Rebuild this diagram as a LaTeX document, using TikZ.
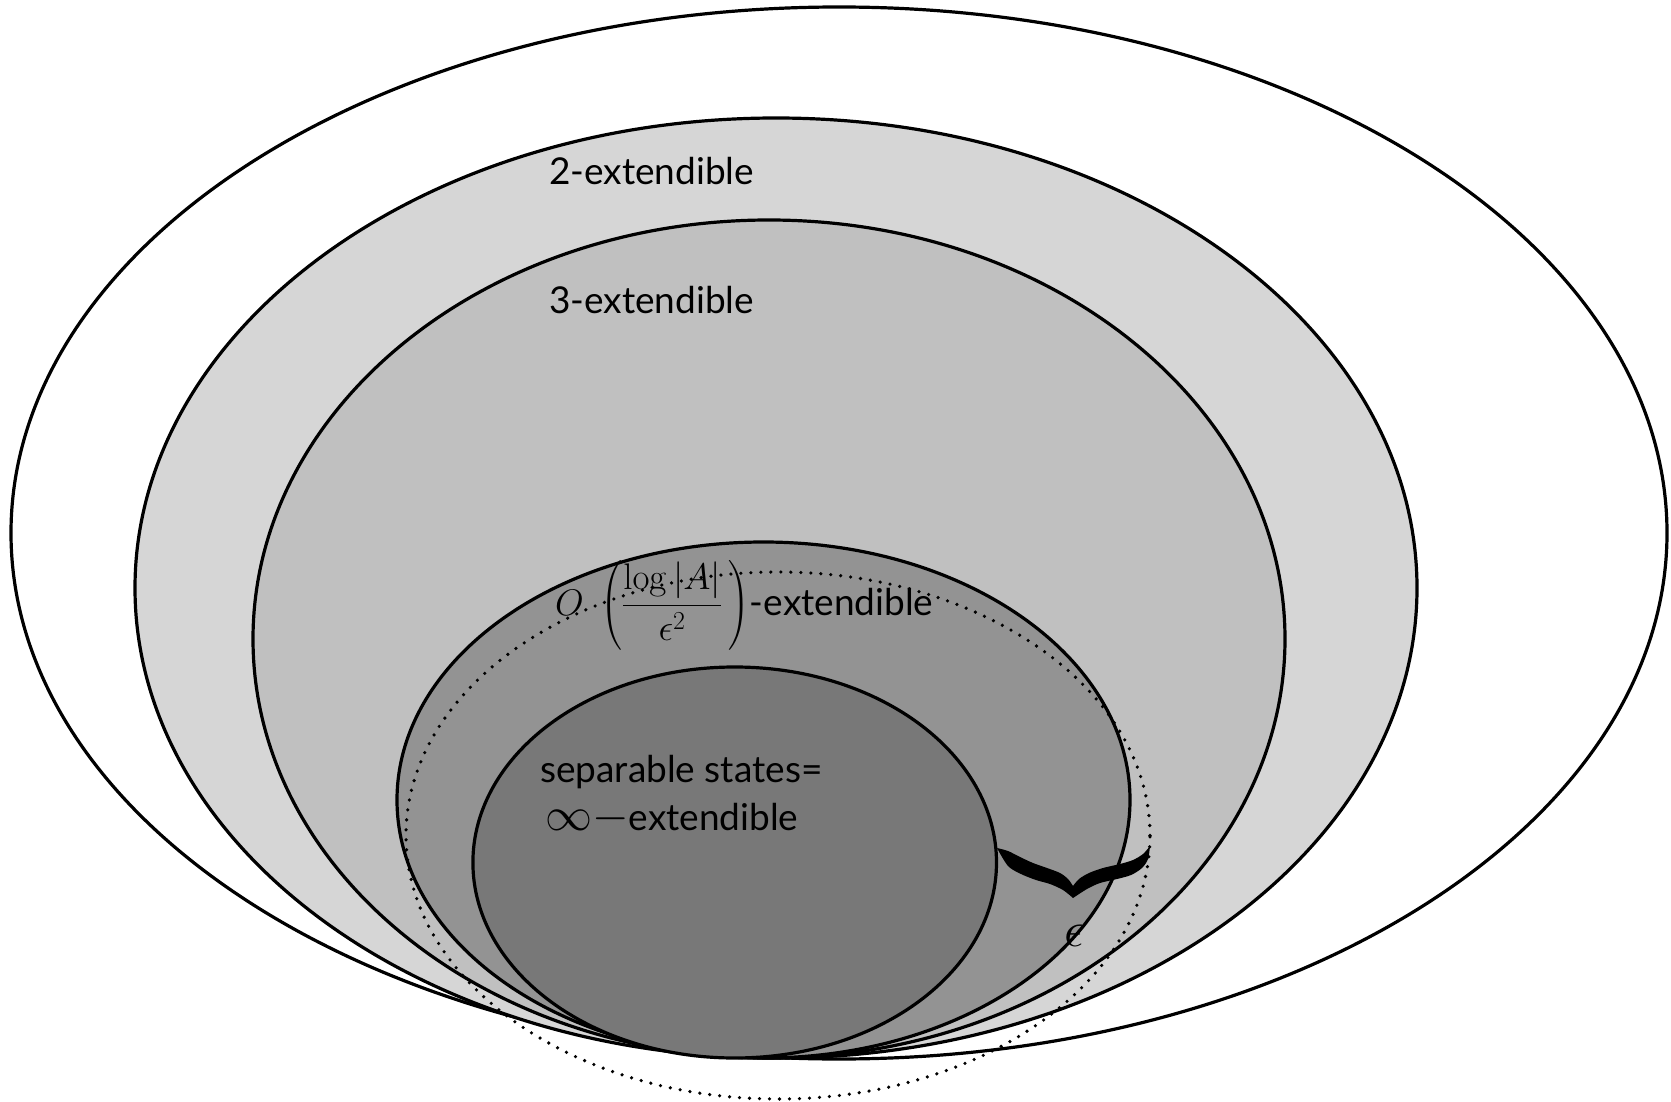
\documentclass[tikz,border=0pt]{standalone}
\usepackage{fix-cm}
\usepackage{amsmath}
\usepackage[no-math]{fontspec}
\setmainfont{Lato}
\definecolor{gA}{RGB}{214,214,214}
\definecolor{gB}{RGB}{192,192,192}
\definecolor{gC}{RGB}{147,147,147}
\definecolor{gD}{RGB}{120,120,120}
\tikzset{
  ring/.style={draw=black, line width=3.2pt},
  lbl/.style={font=\fontsize{37}{44}\selectfont, inner sep=0pt, anchor=base west},
  dotline/.style={draw=black, line width=3.6pt, dash pattern=on 0pt off 10pt, line cap=round},
}
\begin{document}
\begin{tikzpicture}[x=1pt,y=-1pt]
\useasboundingbox[fill=white] (0,0) rectangle (1671,1102);
% nested ellipses
\path[ring, fill=white] (839,533) ellipse [x radius=828pt, y radius=526pt];
\path[ring, fill=gA] (776,588) ellipse [x radius=641pt, y radius=470pt];
\path[ring, fill=gB] (769,639) ellipse [x radius=516pt, y radius=419pt];
\path[ring, fill=gC] (763.5,800) ellipse [x radius=366.5pt, y radius=258pt];
\path[ring, fill=gD] (734.7,862.5) ellipse [x radius=261.8pt, y radius=195.5pt];
% labels
\node[lbl] (two) at (549,185) {2-extendible};
\node[lbl] (three) at (549,313) {3-extendible};
\node[lbl] (olbl) at (555,615) {$\displaystyle O\;\left(\frac{\log|A|}{\epsilon^2}\,\right)$-extendible};
\node[lbl] (sep) at (540,782) {separable states=};
\node[lbl] (inf) at (545,830) {{\fontsize{47}{50}\selectfont$\infty-$}extendible};
% dotted epsilon-neighbourhood
\path[dotline] (778,835.5) ellipse [x radius=372pt, y radius=263.5pt];
% brace
\fill[black] plot[smooth] coordinates {(997,848) (1008,851) (1020,857) (1033,863) (1047,868) (1060,873) (1068,879) (1073,886)}
 -- plot[smooth] coordinates {(1073,886) (1079,879) (1089,873) (1103,868) (1120,864) (1133,860) (1143,854) (1150,846)}
 -- plot[smooth] coordinates {(1150,846) (1148,859) (1142,868) (1131,875) (1117,879) (1100,883) (1087,889) (1073,898)}
 -- plot[smooth] coordinates {(1073,898) (1063,890) (1050,884) (1036,880) (1021,874) (1008,866) (997,848)} -- cycle;
\node[inner sep=0pt, font=\fontsize{50}{60}\selectfont] (eps) at (1074,936) {$\epsilon$};
\end{tikzpicture}
\end{document}
